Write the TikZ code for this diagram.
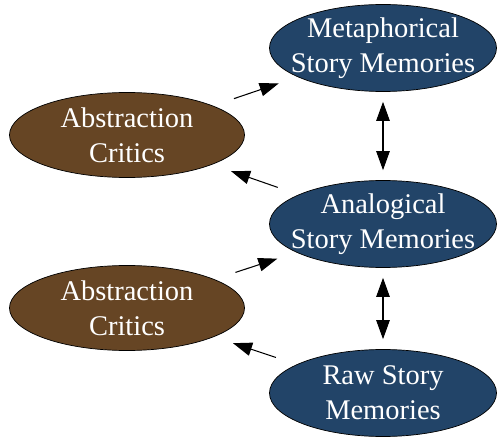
\documentclass[tikz,border=0pt]{standalone}
\usepackage{fontspec}
\setmainfont{Liberation Serif}
\usetikzlibrary{arrows.meta,shapes.geometric}
\definecolor{storyblue}{RGB}{34,68,104}
\definecolor{criticbrown}{RGB}{102,69,36}

\begin{document}
\begin{tikzpicture}[>={Triangle[length=0.38cm, width=0.27cm]},
  memory/.style={draw=black, thin, ellipse, fill=storyblue, text=white,
    inner xsep=-0.26cm, inner ysep=-0.05cm,
    minimum width=4.54cm, minimum height=1.74cm, align=center,
    font=\fontsize{16.2}{20}\selectfont},
  critic/.style={draw=black, thin, ellipse, fill=criticbrown, text=white, inner sep=0pt,
    minimum width=4.7cm, minimum height=1.7cm, align=center,
    font=\fontsize{16.2}{20}\selectfont},
  link/.style={semithick, ->, shorten >=0.4cm, shorten <=0.44cm}]
\useasboundingbox (0,0) rectangle (9.96,-8.78);
\node[memory] (M) at (7.66, -0.96) {Metaphorical\\Story Memories};
\node[memory] (A) at (7.66, -4.48) {Analogical\\Story Memories};
\node[memory] (R) at (7.66, -7.86) {Raw Story\\Memories};
\node[critic] (C1) at (2.54, -2.70) {Abstraction\\Critics};
\node[critic] (C2) at (2.54, -6.16) {Abstraction\\Critics};
\draw [link] (C1) -- (M);
\draw [link] (A) -- (C1);
\draw [link] (C2) -- (A);
\draw [link] (R) -- (C2);
\draw [semithick, <->, shorten >=0.2cm, shorten <=0.2cm] (M) -- (A);
\draw [semithick, <->, shorten >=0.2cm, shorten <=0.2cm] (A) -- (R);
\end{tikzpicture}
\end{document}
